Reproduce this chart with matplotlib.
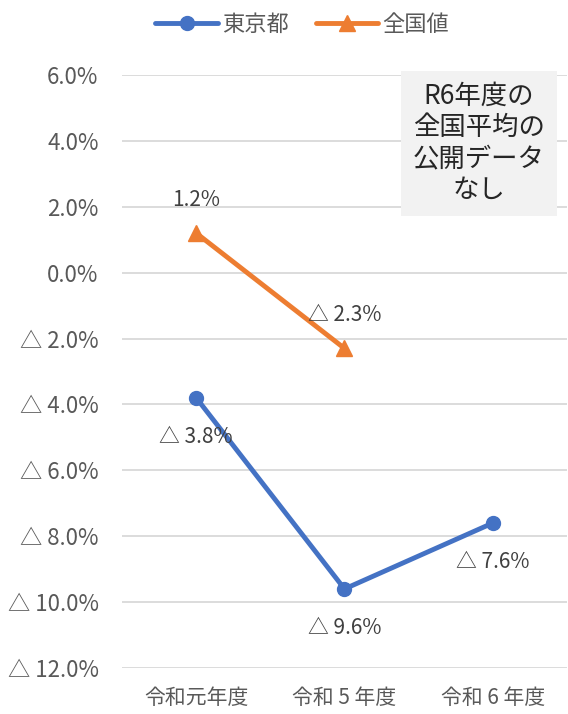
import numpy as np
import matplotlib
matplotlib.use("Agg")
import matplotlib.pyplot as plt
from matplotlib.ticker import FuncFormatter, MultipleLocator

plt.rcParams['font.family'] = ['Noto Sans CJK JP', 'DejaVu Sans']

# データ
categories = ["令和元年度", "令和 5 年度", "令和 6 年度"]
tokyo = [-3.8, -9.6, -7.6]
national = [1.2, -2.3, np.nan]
series_names = ["東京都", "全国値"]
note_text = "R6年度の\n全国平均の\n公開データ\nなし"

blue = "#4472C4"
orange = "#ED7D31"


def fmt_pct(v):
    if v < -1e-9:
        return "△ {:.1f}%".format(-v)
    return "{:.1f}%".format(v)


fig = plt.figure(figsize=(5.68, 7.14), dpi=100)
ax = fig.add_axes([0.215, 0.0644, 0.783, 0.8306])

x = np.arange(len(categories))
ax.plot(x, tokyo, color=blue, lw=3.5, marker="o", ms=10, label=series_names[0],
        solid_capstyle="round")
ax.plot(x, national, color=orange, lw=3.5, marker="^", ms=11, label=series_names[1],
        solid_capstyle="round")

# データラベル（東京都は下、全国値は上）
for xi, v in zip(x, tokyo):
    ax.annotate(fmt_pct(v), (xi, v), xytext=(0, -28), textcoords="offset points",
                ha="center", va="center", fontsize=15, color="#404040")
for xi, v in zip(x, national):
    if np.isnan(v):
        continue
    ax.annotate(fmt_pct(v), (xi, v), xytext=(0, 24), textcoords="offset points",
                ha="center", va="center", fontsize=15, color="#404040")

ax.set_ylim(-12, 6)
ax.set_xlim(-0.5, len(categories) - 0.5)
ax.yaxis.set_major_locator(MultipleLocator(2))
ax.yaxis.set_major_formatter(FuncFormatter(lambda v, p: fmt_pct(v)))
ax.set_xticks(x)
ax.set_xticklabels(categories)
ax.tick_params(axis="y", length=0, labelsize=16, colors="#595959", pad=17)
ax.tick_params(axis="x", length=0, labelsize=15, colors="#595959", pad=14)
ax.grid(axis="y", color="#D9D9D9", lw=1.3)
ax.set_axisbelow(True)
for s in ax.spines.values():
    s.set_visible(False)

# 注記ボックス
fig.text(0.843, 0.799, note_text, ha="center", va="center", fontsize=19,
         color="#262626", linespacing=1.2,
         bbox=dict(boxstyle="square,pad=0.45", facecolor="#F2F2F2", edgecolor="none"))

fig.legend(loc="upper center", bbox_to_anchor=(0.532, 1.01), ncol=2, frameon=False,
           fontsize=16, handlelength=2.8, columnspacing=1.2, handletextpad=0.2,
           labelcolor="#595959")

fig.savefig("out.png", dpi=100)
